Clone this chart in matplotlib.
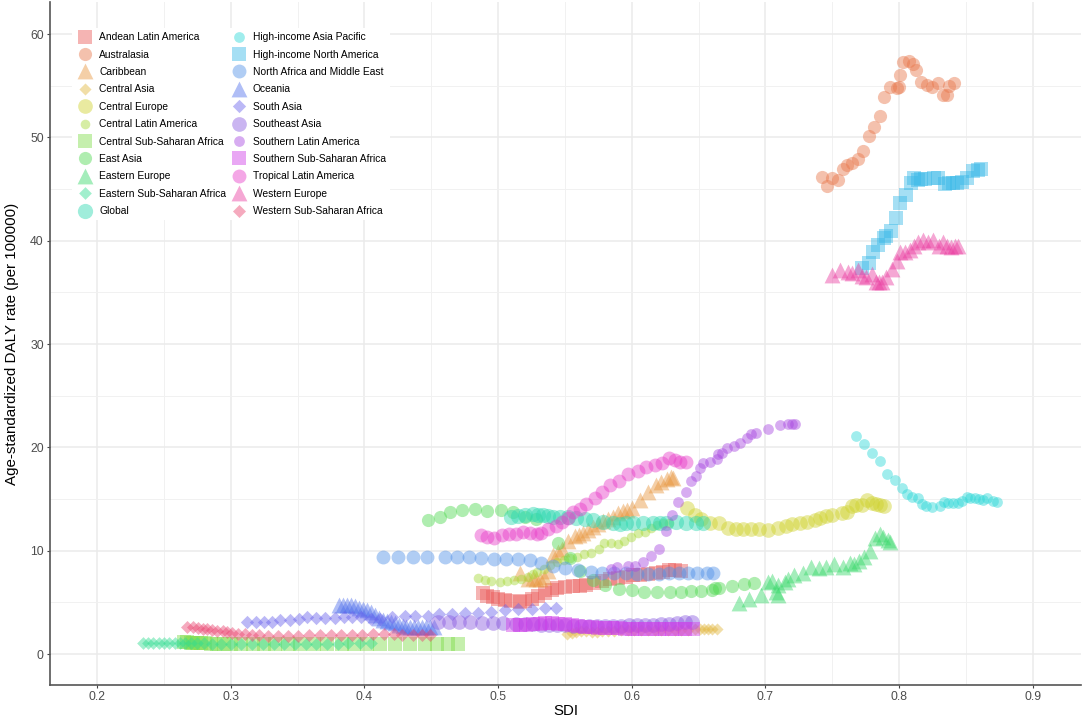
# SDI vs age-standardized DALY rate by region
import matplotlib
matplotlib.use('Agg')
import matplotlib.pyplot as plt
from matplotlib.ticker import MultipleLocator

plt.rcParams['font.family'] = ['Liberation Sans', 'DejaVu Sans']

# Prepare the data
regions = [
    'Andean Latin America', 'Australasia', 'Caribbean', 'Central Asia', 'Central Europe',
    'Central Latin America', 'Central Sub-Saharan Africa', 'East Asia', 'Eastern Europe',
    'Eastern Sub-Saharan Africa', 'Global', 'High-income Asia Pacific', 'High-income North America',
    'North Africa and Middle East', 'Oceania', 'South Asia', 'Southeast Asia',
    'Southern Latin America', 'Southern Sub-Saharan Africa', 'Tropical Latin America',
    'Western Europe', 'Western Sub-Saharan Africa',
]

andean_x = [.489, .492, .496, .500, .505, .510, .516, .520, .525, .530, .535, .540, .544, .550, .556, .561, .566, .572, .578, .584, .590, .596, .601, .606, .612, .618, .623, .628, .632, .637]
andean_y = [5.9, 5.6, 5.5, 5.3, 5.2, 5.1, 5.0, 5.1, 5.3, 5.6, 5.9, 6.2, 6.4, 6.5, 6.6, 6.6, 6.7, 6.9, 7.1, 7.3, 7.4, 7.5, 7.6, 7.6, 7.7, 7.8, 7.9, 8.1, 8.1, 8.0]

australasia_x = [.742, .746, .7495, .754, .758, .761, .7645, .769, .773, .7775, .7815, .7855, .789, .7935, .798, .7995, .8005, .803, .8075, .8105, .8125, .8165, .821, .8245, .829, .8325, .836, .8375, .841]
australasia_y = [46.2, 45.3, 46.1, 45.9, 46.9, 47.3, 47.5, 47.9, 48.7, 50.1, 51.0, 52.1, 53.9, 54.9, 54.8, 54.9, 56.05, 57.3, 57.4, 57.1, 56.5, 55.35, 55.1, 54.9, 55.3, 54.1, 54.1, 55.0, 55.25]

caribbean_x = [.516, .522, .526, .528, .531, .534, .537, .541, .5445, .548, .552, .5575, .5605, .5635, .567, .571, .575, .5785, .582, .586, .59, .5935, .5965, .6, .606, .612, .618, .622, .626, .629, .631]
caribbean_y = [7.8, 7.3, 7.4, 7.3, 7.3, 7.5, 8.0, 9.6, 9.9, 10.2, 10.9, 11.4, 11.5, 11.7, 12.0, 12.3, 12.6, 12.9, 13.1, 13.3, 13.6, 13.8, 13.95, 14.1, 14.9, 15.7, 16.4, 16.6, 16.9, 17.1, 17.0]

central_asia_x = [.5515, .555, .558, .562, .566, .570, .574, .578, .582, .587, .592, .597, .602, .607, .612, .617, .622, .627, .632, .637, .642, .647, .651, .654, .657, .660, .664]
central_asia_y = [1.9, 2.0, 2.1, 2.2, 2.2, 2.1, 2.1, 2.2, 2.2, 2.2, 2.3, 2.3, 2.3, 2.3, 2.3, 2.3, 2.3, 2.3, 2.3, 2.3, 2.3, 2.4, 2.4, 2.4, 2.4, 2.4, 2.4]

central_europe_x = [.641, .647, .652, .6585, .6655, .672, .678, .683, .689, .695, .702, .709, .715, .72, .726, .731, .737, .741, .745, .75, .757, .761, .7645, .768, .772, .776, .78, .783, .786, .789]
central_europe_y = [14.1, 13.45, 13.05, 12.7, 12.7, 12.2, 12.05, 12.1, 12.1, 12.05, 12.0, 12.2, 12.4, 12.55, 12.65, 12.75, 13.0, 13.2, 13.4, 13.5, 13.6, 13.7, 14.3, 14.4, 14.4, 14.9, 14.65, 14.5, 14.45, 14.35]

central_latin_x = [.485, .49, .495, .5015, .507, .512, .517, .522, .526, .529, .534, .539, .544, .549, .554, .559, .564, .5695, .5755, .579, .5845, .5895, .5945, .5995, .6045, .6095, .6145, .6185, .623, .6275]
central_latin_y = [7.4, 7.2, 7.05, 7.0, 7.05, 7.15, 7.3, 7.5, 7.7, 7.9, 8.2, 8.6, 8.9, 9.1, 9.25, 9.4, 9.65, 9.75, 10.2, 10.7, 10.7, 10.6, 10.9, 11.35, 11.7, 11.85, 12.15, 12.5, 12.65, 12.7]

central_ssa_x = [.265, .267, .27, .272, .275, .278, .281, .285, .29, .295, .30, .308, .317, .325, .333, .343, .352, .362, .372, .383, .392, .402, .4115, .423, .434, .445, .454, .4625, .47]
central_ssa_y = [1.15, 1.15, 1.1, 1.1, 1.1, 1.05, 1.05, 1.0, 1.0, 1.0, 1.0, .95, .95, .95, .95, .95, .95, .95, .95, .95, .95, .95, .95, 1.0, 1.0, 1.0, 1.0, 1.0, 1.0]

east_asia_x = [.4476, .4565, .464, .473, .483, .492, .502, .511, .52, .528, .545, .554, .561, .571, .58, .5905, .6, .609, .6185, .6285, .637, .644, .652, .66, .6625, .665, .675, .684, .6915]
east_asia_y = [13.0, 13.25, 13.7, 13.9, 14.05, 13.85, 13.95, 13.7, 13.3, 13.1, 10.7, 9.3, 8.0, 7.15, 6.7, 6.3, 6.2, 6.0, 6.0, 6.0, 6.0, 6.1, 6.1, 6.2, 6.35, 6.4, 6.6, 6.8, 6.85]

eastern_europe_x = [.68, .688, .697, .702, .705, .709, .709, .708, .7145, .717, .721, .728, .734, .74, .7455, .751, .758, .763, .766, .77, .774, .778, .782, .786, .788, .792, .793]
eastern_europe_y = [4.95, 5.3, 5.7, 6.95, 7.05, 6.7, 5.7, 6.0, 6.95, 7.25, 7.65, 7.8, 8.45, 8.3, 8.45, 8.7, 8.45, 8.8, 8.7, 9.0, 9.4, 10.0, 11.2, 11.6, 11.35, 11.0, 10.8]

eastern_ssa_x = [.2346, .238, .242, .246, .25, .254, .258, .262, .266, .27, .275, .28, .286, .293, .30, .308, .316, .324, .332, .34, .348, .356, .364, .372, .38, .388, .397, .405]
eastern_ssa_y = [1.05, 1.05, 1.05, 1.05, 1.05, 1.05, 1.05, 1.05, 1.05, 1.05, 1.05, 1.05, 1.0, 1.0, 1.0, 1.0, 1.0, 1.0, 1.0, 1.0, 1.0, 1.0, 1.0, 1.0, 1.0, 1.05, 1.05, 1.05]

global_x = [.51, .515, .52, .5262, .53, .5337, .5374, .5412, .546, .5524, .5586, .5648, .571, .5785, .586, .591, .596, .601, .6084, .6159, .621, .6258, .6333, .6408, .6482, .6532]
global_y = [13.29, 13.4, 13.5, 13.52, 13.5, 13.45, 13.35, 13.29, 13.3, 13.29, 13.13, 13.07, 12.97, 12.81, 12.65, 12.58, 12.65, 12.71, 12.71, 12.71, 12.7, 12.71, 12.81, 12.71, 12.71, 12.65]

hi_asia_x = [.7675, .7737, .7797, .7856, .7906, .7966, .8018, .8056, .8096, .8138, .8168, .8198, .8248, .8305, .8335, .8368, .8405, .8443, .8468, .8505, .853, .8567, .86, .8625, .866, .8705, .8735]
hi_asia_y = [21.1, 20.3, 19.5, 18.7, 17.4, 16.8, 16.1, 15.45, 15.15, 15.05, 14.5, 14.3, 14.25, 14.3, 14.75, 14.65, 14.65, 14.65, 14.8, 15.15, 15.1, 15.05, 15.0, 14.9, 15.1, 14.8, 14.7]

hi_north_x = [.772, .7777, .7807, .7844, .7887, .7905, .7936, .7973, .8006, .8053, .8088, .811, .8138, .8165, .8193, .826, .8293, .834, .837, .84, .843, .8467, .8505, .8555, .859, .861]
hi_north_y = [37.4, 37.8, 38.9, 39.6, 40.3, 40.5, 40.9, 42.2, 43.6, 44.4, 45.6, 46.1, 45.9, 46.0, 45.95, 46.05, 46.05, 45.5, 45.55, 45.55, 45.6, 45.65, 46.05, 46.7, 46.85, 46.9]

name_x = [.414, .425, .436, .447, .46, .469, .478, .487, .497, .506, .515, .524, .532, .541, .55, .56, .5695, .578, .587, .5955, .604, .612, .62, .6275, .635, .642, .649, .656, .661]
name_y = [9.4, 9.4, 9.4, 9.4, 9.4, 9.35, 9.35, 9.3, 9.2, 9.2, 9.2, 9.05, 8.8, 8.55, 8.3, 8.1, 7.95, 7.85, 7.85, 7.8, 7.75, 7.75, 7.75, 7.8, 7.85, 7.8, 7.8, 7.8, 7.85]

oceania_x = [.381, .384, .387, .39, .393, .396, .399, .402, .405, .408, .411, .414, .417, .42, .423, .426, .429, .431, .434, .437, .44, .443, .446, .449, .452]
oceania_y = [4.7, 4.7, 4.7, 4.7, 4.6, 4.5, 4.4, 4.3, 4.1, 3.8, 3.5, 3.3, 3.2, 3.1, 3.0, 2.85, 2.7, 2.65, 2.6, 2.6, 2.6, 2.6, 2.6, 2.6, 2.6]

south_asia_x = [.312, .319, .325, .331, .337, .344, .351, .357, .364, .3705, .378, .3847, .391, .3975, .405, .412, .4209, .43, .438, .4473, .456, .4653, .475, .485, .495, .505, .515, .525, .535, .543]
south_asia_y = [3.1, 3.1, 3.05, 3.1, 3.25, 3.3, 3.4, 3.55, 3.5, 3.5, 3.5, 3.55, 3.6, 3.6, 3.4, 3.4, 3.6, 3.7, 3.7, 3.7, 3.85, 3.9, 3.95, 4.0, 4.1, 4.25, 4.35, 4.35, 4.45, 4.5]

southeast_asia_x = [.455, .4635, .471, .479, .488, .4965, .504, .513, .52, .526, .532, .538, .544, .55, .556, .562, .568, .574, .58, .586, .592, .598, .604, .61, .616, .622, .628, .634, .64, .645]
southeast_asia_y = [3.1, 3.05, 3.05, 3.05, 3.0, 3.0, 3.0, 2.9, 2.9, 2.9, 2.85, 2.85, 2.8, 2.8, 2.75, 2.75, 2.7, 2.7, 2.75, 2.75, 2.75, 2.8, 2.8, 2.85, 2.85, 2.9, 2.95, 3.0, 3.05, 3.05]

southern_latin_x = [.5845, .589, .5975, .6025, .6087, .6145, .6205, .6255, .6303, .6343, .6403, .6445, .648, .6512, .6532, .6585, .6635, .6648, .6675, .6715, .6765, .681, .6865, .6895, .693, .7015, .7105, .717, .7195, .722]
southern_latin_y = [8.2, 8.45, 8.5, 8.55, 8.9, 9.45, 10.2, 11.9, 13.5, 14.7, 15.7, 16.75, 17.25, 18.0, 18.45, 18.6, 18.85, 19.4, 19.5, 19.9, 20.15, 20.45, 20.95, 21.3, 21.4, 21.8, 22.15, 22.25, 22.25, 22.3]

southern_ssa_x = [.5115, .516, .521, .526, .531, .535, .54, .545, .55, .555, .56, .565, .57, .575, .58, .585, .59, .595, .6, .605, .61, .615, .62, .625, .63, .635, .64, .646]
southern_ssa_y = [2.8, 2.8, 2.85, 2.9, 2.95, 3.0, 3.0, 2.95, 2.9, 2.8, 2.7, 2.65, 2.6, 2.55, 2.5, 2.5, 2.5, 2.45, 2.45, 2.45, 2.45, 2.4, 2.4, 2.4, 2.4, 2.4, 2.4, 2.4]

tropical_x = [.487, .492, .497, .503, .508, .513, .5188, .524, .529, .532, .5375, .5433, .5475, .5525, .556, .5612, .566, .5725, .578, .584, .5905, .5975, .6045, .6105, .6175, .6225, .6275, .6325, .636, .6405]
tropical_y = [11.5, 11.35, 11.25, 11.5, 11.6, 11.65, 11.8, 11.75, 11.65, 11.75, 12.05, 12.4, 12.8, 13.2, 13.75, 14.0, 14.5, 15.05, 15.65, 16.35, 16.75, 17.4, 17.7, 18.1, 18.3, 18.5, 19.0, 18.8, 18.6, 18.6]

western_europe_x = [.75, .756, .762, .765, .769, .772, .7755, .7795, .7825, .785, .7875, .7905, .7948, .798, .8005, .8043, .808, .8113, .8143, .8176, .8213, .825, .83, .833, .8355, .839, .8415, .8443]
western_europe_y = [36.7, 37.15, 37.0, 36.85, 37.15, 36.6, 36.5, 36.75, 36.0, 36.0, 36.0, 36.5, 37.3, 38.05, 38.9, 38.9, 39.1, 39.45, 39.9, 40.05, 39.9, 40.05, 39.45, 39.9, 39.45, 39.35, 39.45, 39.5]

western_ssa_x = [.2675, .272, .2758, .279, .2825, .2857, .29, .294, .2975, .3007, .3057, .3106, .3156, .3213, .328, .3355, .343, .3505, .3584, .3666, .3748, .3828, .3908, .3985, .4065, .4147, .4222, .4284, .4364, .4433, .449]
western_ssa_y = [2.64, 2.61, 2.55, 2.45, 2.39, 2.32, 2.26, 2.22, 2.13, 2.06, 1.97, 1.9, 1.84, 1.84, 1.77, 1.77, 1.77, 1.77, 1.8, 1.8, 1.8, 1.84, 1.87, 1.87, 1.9, 1.93, 1.93, 1.87, 1.87, 1.87, 1.87]

xs = [andean_x, australasia_x, caribbean_x, central_asia_x, central_europe_x, central_latin_x,
      central_ssa_x, east_asia_x, eastern_europe_x, eastern_ssa_x, global_x, hi_asia_x, hi_north_x,
      name_x, oceania_x, south_asia_x, southeast_asia_x, southern_latin_x, southern_ssa_x, tropical_x,
      western_europe_x, western_ssa_x]
ys = [andean_y, australasia_y, caribbean_y, central_asia_y, central_europe_y, central_latin_y,
      central_ssa_y, east_asia_y, eastern_europe_y, eastern_ssa_y, global_y, hi_asia_y, hi_north_y,
      name_y, oceania_y, south_asia_y, southeast_asia_y, southern_latin_y, southern_ssa_y, tropical_y,
      western_europe_y, western_ssa_y]

markers = ['s', 'o', '^', 'D', 'o', 'o', 's', 'o', '^', 'D', 'o', 'o', 's', 'o', '^', 'D', 'o', 'o', 's', 'o', '^', 'D']
sizes = [88, 90, 130, 38, 112, 48, 88, 90, 130, 42, 120, 60, 88, 100, 130, 46, 112, 60, 88, 100, 130, 44]
colors = ['#ea5a58', '#e8764a', '#e8953c', '#e2b63c', '#cfd22e', '#a6d836', '#80dc4a', '#4fd850',
          '#35d868', '#30dc90', '#2cd8b0', '#2cd8d8', '#38b8e8', '#5090e8', '#5070ec', '#6a62ec',
          '#8a5ce0', '#a848e0', '#cf3ce8', '#e83cc8', '#ea3ca0', '#ea4470']

# Create a plot
fig = plt.figure(figsize=(10.84, 7.18), dpi=100)
ax = fig.add_axes([50 / 1084, 1 - 685 / 718, 1031 / 1084, 683 / 718])

for i in range(len(regions)):
    ax.scatter(xs[i], ys[i], marker=markers[i], s=sizes[i], color=colors[i], alpha=0.45,
               linewidths=0, label=regions[i], zorder=3)

ax.set_xlim(0.1648, 0.936)
ax.set_ylim(-3.0, 63.1)
ax.xaxis.set_major_locator(MultipleLocator(0.1))
ax.xaxis.set_minor_locator(MultipleLocator(0.05))
ax.yaxis.set_major_locator(MultipleLocator(10))
ax.yaxis.set_minor_locator(MultipleLocator(5))
ax.grid(which='major', color='#ebebeb', lw=1.1)
ax.grid(which='minor', color='#f1f1f1', lw=0.7)
ax.set_axisbelow(True)
ax.tick_params(which='minor', length=0)
ax.tick_params(which='major', length=2.5, width=0.8, color='#444444', labelcolor='#4d4d4d', labelsize=8.8, pad=2)

for side in ['top', 'right']:
    ax.spines[side].set_visible(False)
for side in ['left', 'bottom']:
    ax.spines[side].set_color('#555555')
    ax.spines[side].set_linewidth(1.2)

ax.set_xlabel('SDI', fontsize=10.8, labelpad=0.8)
ax.set_ylabel('Age-standardized DALY rate (per 100000)', fontsize=10.9, labelpad=8.3)

leg = ax.legend(ncol=2, loc='upper left', bbox_to_anchor=(22 / 1031, 1 - 26 / 683), borderaxespad=0,
                fontsize=7.4, frameon=True, framealpha=1, facecolor='white', edgecolor='none',
                labelspacing=0.72, columnspacing=0.35, handletextpad=0.55, handlelength=1.7,
                borderpad=0.4, scatteryoffsets=[0.5])

# Save the plot
fig.savefig('out.png', dpi=100)
